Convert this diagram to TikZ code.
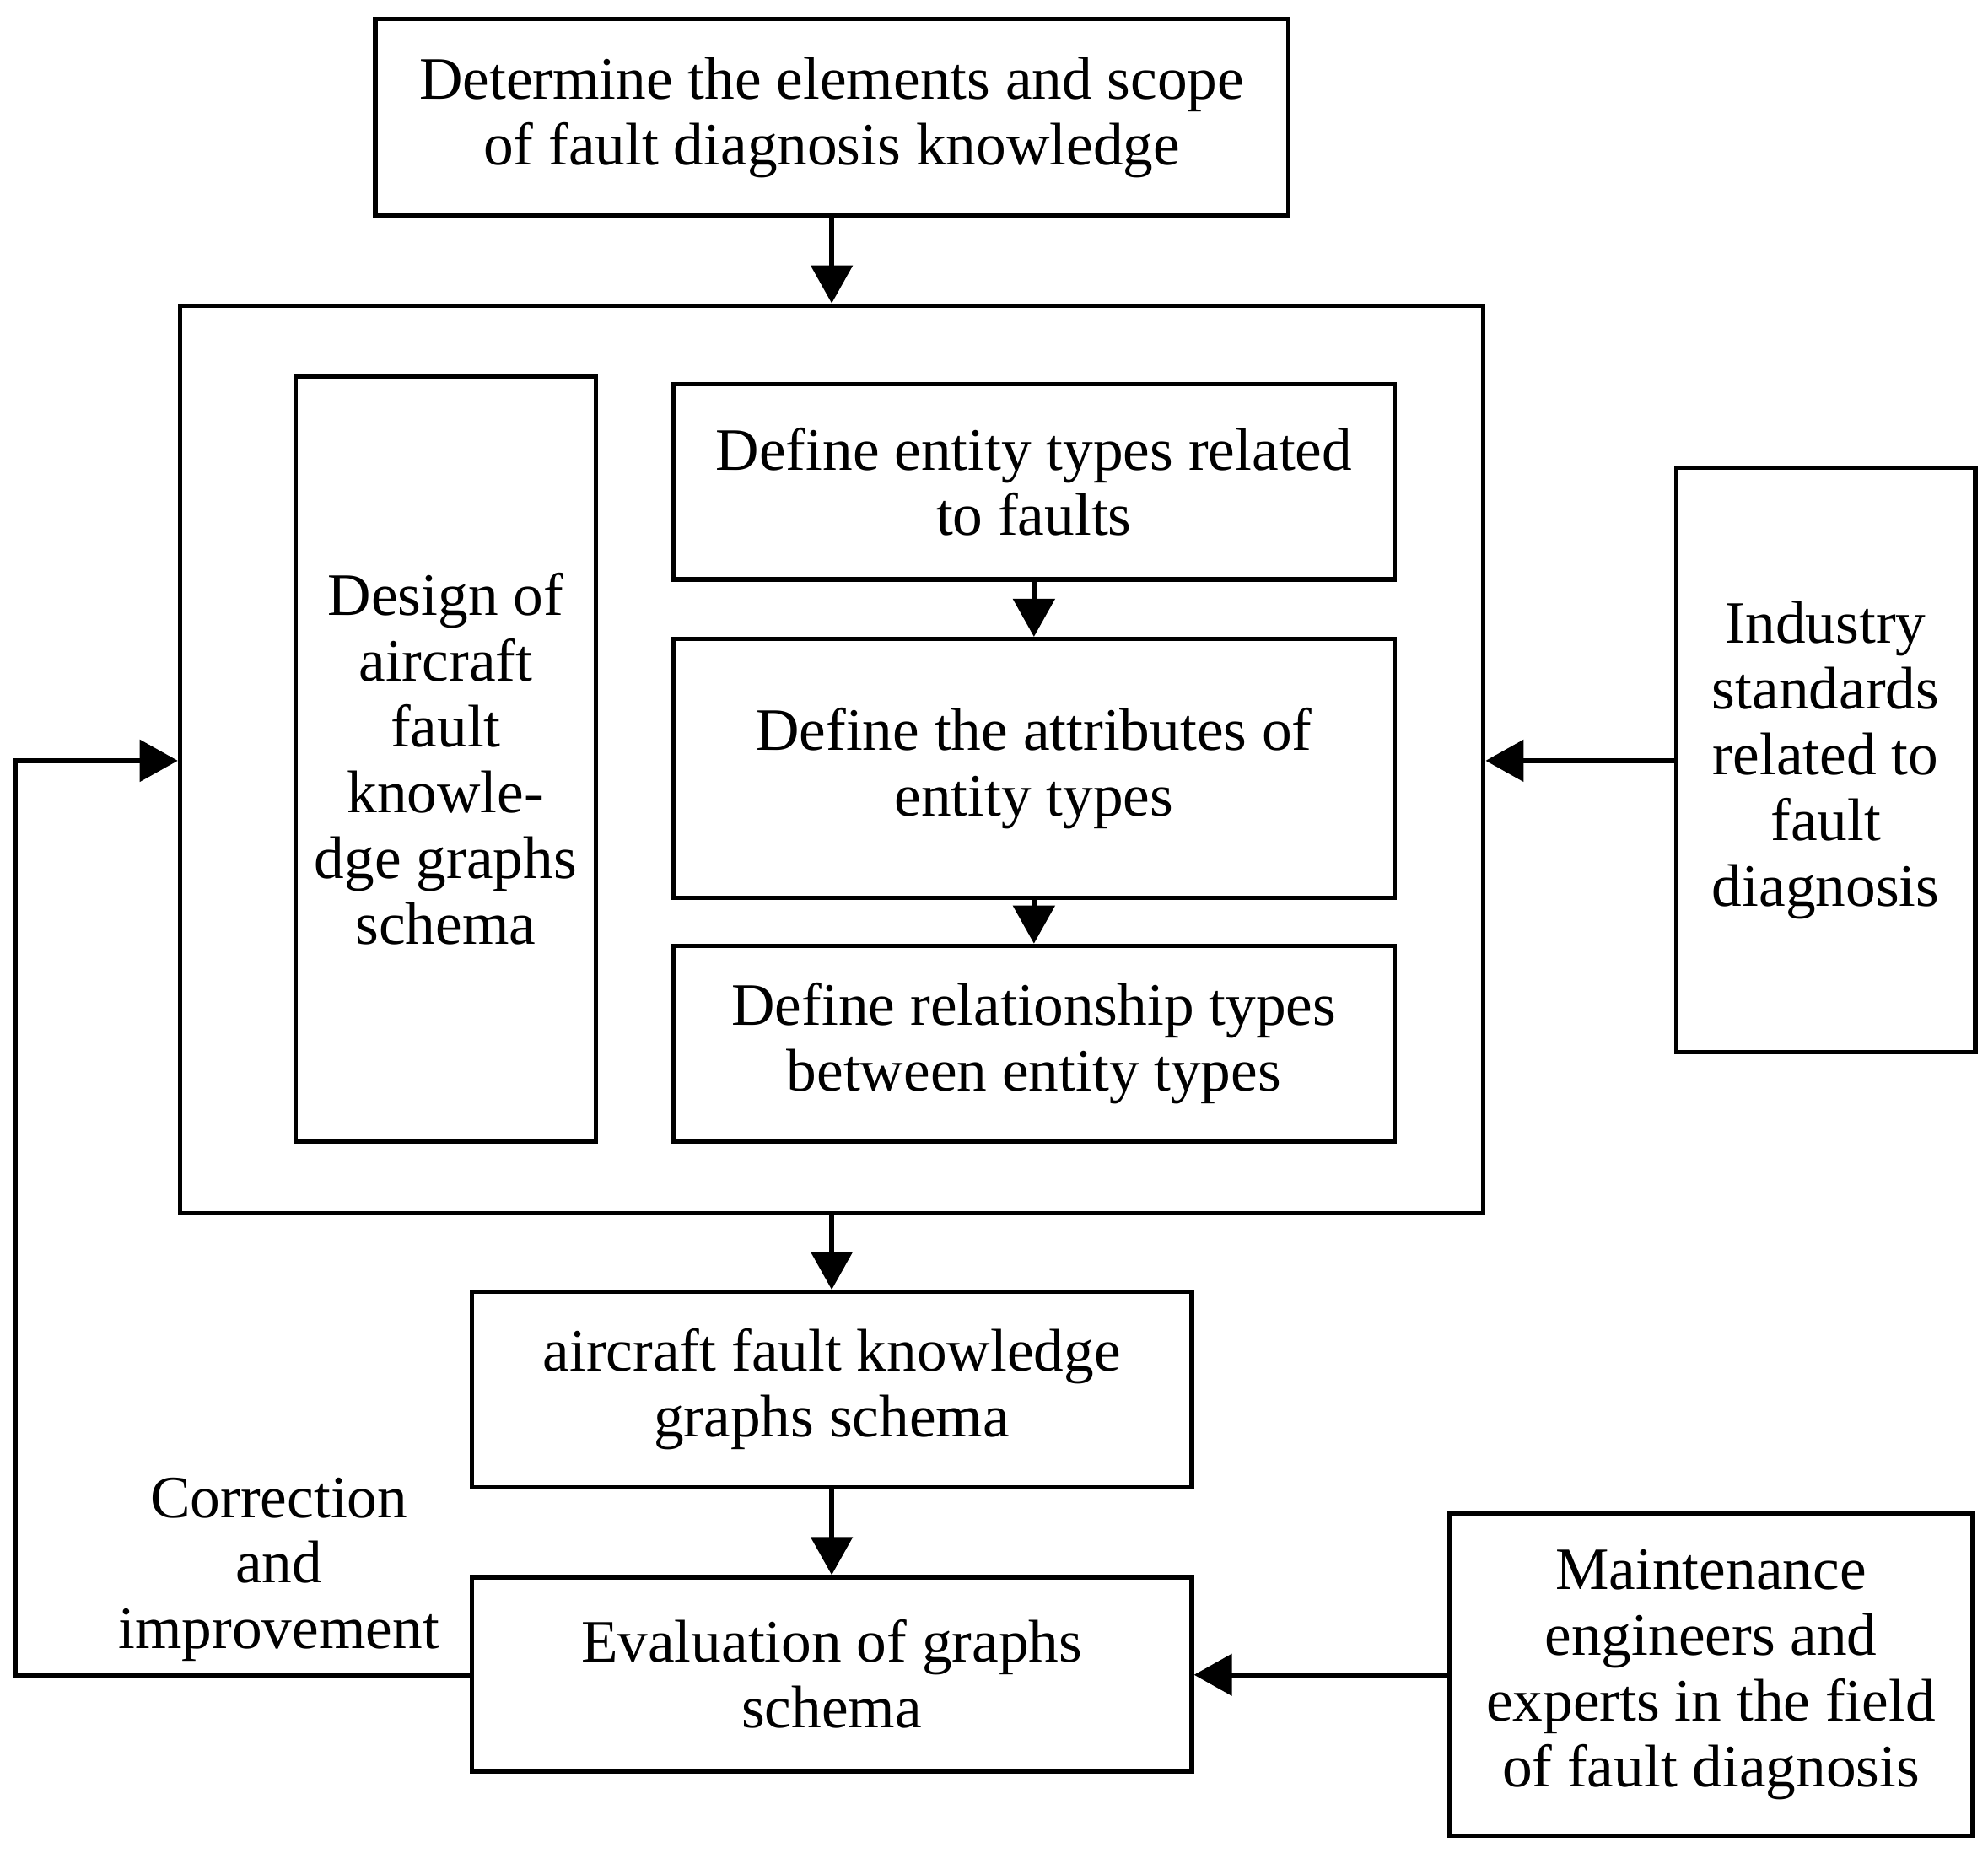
\documentclass[tikz,border=0pt]{standalone}
\usepackage{fontspec}
\setmainfont{Liberation Serif}
\usetikzlibrary{arrows.meta}
\begin{document}
\begin{tikzpicture}[x=0.02cm,y=-0.02cm,
  box/.style={draw,line width=2pt,align=center,inner sep=0pt,font=\fontsize{27}{29.5}\selectfont},
  txt/.style={align=center,inner sep=0pt,font=\fontsize{27}{29.5}\selectfont},
  arr/.style={line width=2.2pt,-{Triangle[length=0.6cm,width=0.65cm]}}]
\useasboundingbox (0,0) rectangle (1568,1461);
\newcommand\bx[6]{\node[box,minimum width=#4*0.02cm-#2*0.02cm,minimum height=#5*0.02cm-#3*0.02cm] (#1) at ({(#2+#4)/2},{(#3+#5)/2}) {#6};}
\bx{top}{296}{15}{1016}{170}{Determine the elements and scope\\of fault diagnosis knowledge}
\bx{big}{142}{241}{1170}{957}{}
\bx{design}{233}{297}{470}{900}{Design of\\aircraft\\fault\\knowle-\\dge graphs\\schema}
\bx{ent}{531}{303}{1100}{457}{Define entity types related\\to faults}
\bx{att}{531}{504}{1100}{708}{Define the attributes of\\entity types}
\bx{rel}{531}{746}{1100}{900}{Define relationship types\\between entity types}
\bx{ind}{1322}{369}{1558}{830}{Industry\\standards\\related to\\fault\\diagnosis}
\bx{sch}{372}{1019}{940}{1173}{aircraft fault knowledge\\graphs schema}
\bx{eval}{372}{1244}{940}{1397}{Evaluation of graphs\\schema}
\bx{mnt}{1143}{1194}{1556}{1448}{Maintenance\\engineers and\\experts in the field\\of fault diagnosis}
\node[txt] (corr) at (220,1238) {Correction\\and\\improvement};
\coordinate (c1) at (12,1321);
\coordinate (c2) at (12,600);
\draw[arr] (top.south -| 656,0) -- (big.north -| 656,0);
\draw[arr] (big.south -| 656,0) -- (sch.north -| 656,0);
\draw[arr] (sch.south -| 656,0) -- (eval.north -| 656,0);
\draw[arr] (ent.south) -- (att.north);
\draw[arr] (att.south) -- (rel.north);
\draw[arr] (ind.west |- 0,600) -- (big.east |- 0,600);
\draw[arr] (mnt.west |- 0,1321) -- (eval.east |- 0,1321);
\draw[arr] (eval.west |- 0,1321) -- (c1) -- (c2) -- (big.west |- 0,600);
\end{tikzpicture}
\end{document}
